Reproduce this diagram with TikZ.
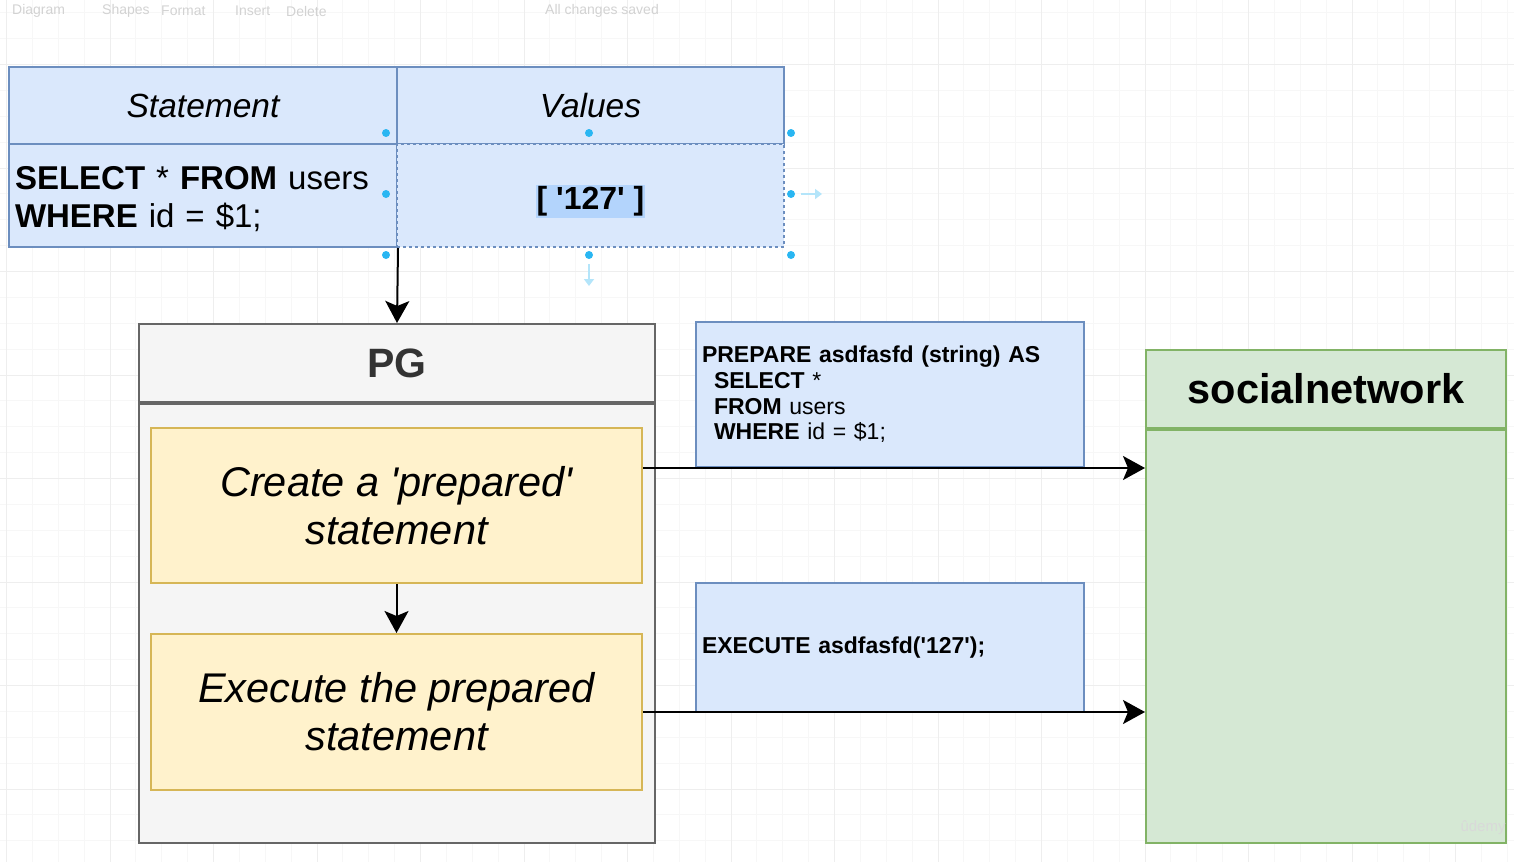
\documentclass[tikz,border=0pt]{standalone}
\usepackage{fontspec}
\setmainfont{Liberation Sans}
\usetikzlibrary{arrows.meta, positioning, calc}
\definecolor{blue1}{HTML}{DAE8FC}
\definecolor{blueline}{HTML}{6C8EBF}
\definecolor{gray1}{HTML}{F5F5F5}
\definecolor{grayline}{HTML}{666666}
\definecolor{yellow1}{HTML}{FFF2CC}
\definecolor{yellowline}{HTML}{D6B656}
\definecolor{green1}{HTML}{D5E8D4}
\definecolor{greenline}{HTML}{82B366}
\definecolor{handle}{HTML}{29B6F2}
\definecolor{selblue}{HTML}{B3D4FC}
\newcommand{\sq}{\textquotesingle}
\tikzset{
  gridminor/.style={gray!6, line width=0.8pt},
  gridmajor/.style={gray!13, line width=0.8pt},
  toolbar/.style={text=gray!35, font=\fontsize{14}{16}\selectfont, inner sep=0pt, anchor=west},
  cell/.style={draw=blueline, fill=blue1, line width=2pt, anchor=north west, inner sep=0pt},
  pgbox/.style={draw=grayline, fill=gray1, line width=2pt, anchor=north west, minimum width=516pt},
  notebox/.style={draw=yellowline, fill=yellow1, line width=2pt, anchor=north west, minimum width=491pt,
    align=center, font=\fontsize{41.5}{48}\selectfont\itshape},
  sqlbox/.style={draw=blueline, fill=blue1, line width=2pt, anchor=north west, text width=376pt,
    inner xsep=6pt, align=left, font=\fontsize{23}{25.7}\selectfont},
  dbbox/.style={draw=greenline, fill=green1, line width=2pt, anchor=north west, minimum width=360pt},
  link/.style={line width=2pt, -{Stealth[length=22pt, width=24pt, inset=5pt]}},
}

\begin{document}
\begin{tikzpicture}[x=1pt, y=-1pt]
  \useasboundingbox (0,0) rectangle (1514,862);
  % Grid
  \foreach \k in {0,...,58} \draw[gridminor] ({6.5+25.875*\k},0) -- ({6.5+25.875*\k},862);
  \foreach \k in {-2,...,30} \draw[gridminor] (0,{64.5+25.875*\k}) -- (1514,{64.5+25.875*\k});
  \foreach \k in {0,...,14} \draw[gridmajor] ({6.5+103.5*\k},0) -- ({6.5+103.5*\k},862);
  \foreach \k in {0,...,7} \draw[gridmajor] (0,{64.5+103.5*\k}) -- (1514,{64.5+103.5*\k});

  % Toolbar
  \node[toolbar] (tbdiagram) at (12,11) {Diagram};
  \node[toolbar] (tbshapes) at (102,11) {Shapes};
  \node[toolbar] (tbformat) at (161,11) {Format};
  \node[toolbar] (tbinsert) at (235,11) {Insert};
  \node[toolbar] (tbdelete) at (286,11) {Delete};
  \node[toolbar] (tbsaved) at (545,11) {All changes saved};

  % Statement / values table
  \node[cell, minimum width=388pt, minimum height=77pt, font=\fontsize{33.5}{38}\selectfont\itshape] (stmt) at (8,66) {Statement};
  \node[cell, minimum width=387pt, minimum height=77pt, font=\fontsize{33.5}{38}\selectfont\itshape] (vals) at (396,66) {Values};
  \node[cell, text width=376pt, inner xsep=6pt, minimum height=103pt, align=left, font=\fontsize{33}{38}\selectfont] (query) at (8,143)
    {\rule{0pt}{31pt}\textbf{SELECT} * \textbf{FROM} users\\\textbf{WHERE} id = \$1;};
  \node[cell, dashed, minimum width=387pt, minimum height=103pt] (params) at (396,143) {};
  \node[fill=selblue, inner xsep=1pt, inner ysep=2pt, font=\fontsize{32}{38}\selectfont\bfseries] (param) at ([yshift=-6pt]params.center) {[ \sq127\sq\ ]};

  % selection handles
  \foreach \p in {(386,133),(589,133),(791,133),(386,194),(791,194),(386,255),(589,255),(791,255)}
    \fill[handle] \p circle (4pt);
  \draw[handle!35, line width=2.5pt, -{Triangle[length=7pt, width=10pt]}] (801,194) -- (822,194);
  \draw[handle!35, line width=2.5pt, -{Triangle[length=7pt, width=10pt]}] (589,264) -- (589,286);

  % PG
  \node[pgbox, minimum height=78pt, text=black!80, font=\fontsize{41}{48}\selectfont\bfseries] (pghead) at (138,323) {PG};
  \node[pgbox, minimum height=439pt] (pgbody) at (pghead.south west) {};
  \node[notebox, minimum height=155pt] (create) at (150,427) {Create a \sq prepared\sq\\statement};
  \node[notebox, minimum height=156pt] (execute) at (150,633) {Execute the prepared\\statement};

  % SQL sent to the database
  \node[sqlbox, minimum height=145pt] (prepare) at (695,321)
    {\textbf{PREPARE asdfasfd (string) AS}\\
     \hspace*{12pt}\textbf{SELECT} *\\
     \hspace*{12pt}\textbf{FROM} users\\
     \hspace*{12pt}\textbf{WHERE} id = \$1;};
  \node[sqlbox, minimum height=129pt] (exec) at (695,582) {\textbf{EXECUTE asdfasfd(\sq127\sq);}};

  % Database
  \node[dbbox, minimum height=78pt, font=\fontsize{41.5}{46}\selectfont\bfseries] (nethead) at (1145,349) {socialnetwork};
  \node[dbbox, minimum height=413pt] (netbody) at (nethead.south west) {};

  % Connectors
  \draw[link] (query.south east) -- (pghead.north);
  \draw[link] (create) -- (execute);
  \draw[link] (create.east |- prepare.south) -- (prepare.south -| netbody.west);
  \draw[link] (execute.east) -- (execute.east -| netbody.west);

  \node[text=gray!30, font=\fontsize{15}{17}\selectfont, inner sep=0pt] (watermark) at (1483,828) {ûdemy};
\end{tikzpicture}
\end{document}
